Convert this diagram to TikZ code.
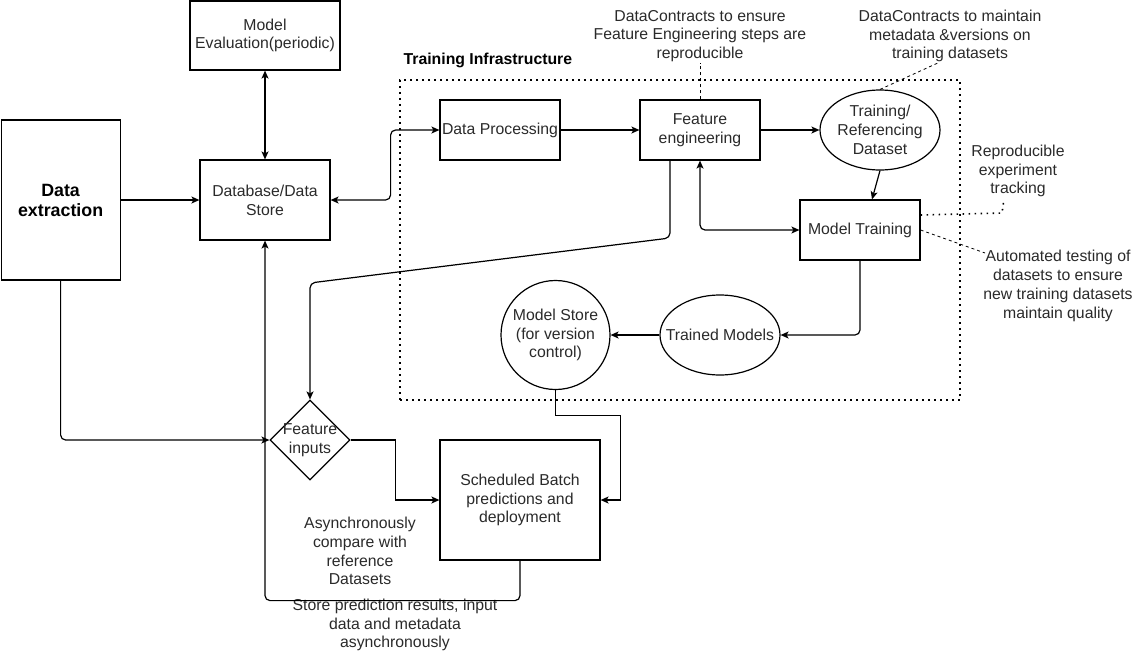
\documentclass[tikz,border=0pt]{standalone}
\usepackage{fontspec}
\setmainfont{Liberation Sans}
\usetikzlibrary{arrows.meta,shapes.geometric}
\definecolor{txt}{HTML}{2A2A2A}
\begin{document}
\begin{tikzpicture}[x=1pt,y=-1pt,
  font=\fontsize{15.8}{18.8}\selectfont,
  line width=1.2pt,
  box/.style={draw, rectangle, align=center, inner sep=0pt, text=txt},
  oval/.style={draw, ellipse, inner sep=0pt},
  note/.style={align=center, inner sep=0pt, text=txt},
  arr/.style={-{Stealth[length=8pt,width=7pt,inset=2pt]}},
  arrtwo/.style={{Stealth[length=8pt,width=7pt,inset=2pt]}-{Stealth[length=8pt,width=7pt,inset=2pt]}},
  rnd/.style={rounded corners=5pt},
  dotline/.style={line width=1.6pt, dash pattern=on 1.6pt off 4.4pt},
  dashline/.style={line width=0.8pt, dash pattern=on 3pt off 3pt}
]
\useasboundingbox (0,0) rectangle (1141,662);

% main nodes
\node[box, minimum width=119, minimum height=160, text=black,
  font=\fontsize{17.8}{20}\selectfont\bfseries] (ext) at (60.6,200) {Data\\extraction};
\node[box, minimum width=150, minimum height=69] (eval) at (265,35.5) {Model\\Evaluation(periodic)};
\node[box, minimum width=130, minimum height=80] (db) at (265,200) {Database/Data\\Store};

% training infrastructure frame
\node[draw, dotline, minimum width=560, minimum height=320, inner sep=0pt] (infra) at (680,240) {};
\node[anchor=west, inner sep=0pt, text=black, font=\fontsize{15.8}{19}\selectfont\bfseries]
  (infralbl) at (403,60) {Training Infrastructure};

\node[box, minimum width=120, minimum height=60] (dp) at (500,130) {Data Processing};
\node[box, minimum width=120, minimum height=60] (fe) at (700,130) {Feature\\engineering};
\node[oval, minimum width=120, minimum height=80] (trd) at (880,130) {};
\node[note] (trdlbl) at (trd) {Training/\\Referencing\\Dataset};
\node[box, minimum width=120, minimum height=60] (mt) at (860,230) {Model Training};
\node[oval, minimum width=120, minimum height=80] (tm) at (720,335) {};
\node[note] (tmlbl) at (tm) {Trained Models};
\node[draw, circle, minimum size=109, align=center, inner sep=0pt, text=txt] (ms) at (555.5,335)
  {Model Store\\(for version\\control)};

% prediction side
\node[draw, diamond, minimum width=80, minimum height=80, inner sep=0pt] (fi) at (310,440) {};
\node[note] (filbl) at (fi) {Feature\\inputs};
\node[box, minimum width=160, minimum height=120] (bat) at (520,500)
  {Scheduled Batch\\predictions and\\deployment};

% notes
\node[note] (ann1) at (700,36) {DataContracts to ensure\\Feature Engineering steps are\\reproducible};
\node[note] (ann2) at (950,36) {DataContracts to maintain\\metadata \&versions on\\training datasets};
\node[note] (ann3) at (1018,171) {Reproducible\\experiment\\tracking};
\node[note] (ann4) at (1058,286) {Automated testing of\\datasets to ensure\\new training datasets\\maintain quality};
\node[note] (ann5) at (360,551) {Asynchronously\\compare with\\reference\\Datasets};
\node[note] (ann6) at (395,625) {Store prediction results, input\\data and metadata\\asynchronously};

% connectors
\draw[arr] (ext) -- (db);
\draw[arrtwo] (eval) -- (db);
\draw[arrtwo, rnd] (db.east) -- ++(60,0) |- (dp.west);
\draw[arr] (dp) -- (fe);
\draw[arr] (fe) -- (trd);
\draw[arr] (trd.south) -- ([xshift=12pt]mt.north);
\draw[arrtwo, rnd] (fe.south) |- (mt.west);
\draw[arr, rnd] ([xshift=-30pt]fe.south) -- (670,238) -- (310,283) -- (fi.north);
\draw[arr, rnd] (ext.south) |- (fi.west);
\draw[arr] (fi.east) -- ++(45,0) |- (bat.west);
\draw[arr, rnd] (bat.south) -- ++(0,40) -| (db.south);
\draw[arr, rnd] (mt.south) |- (tm.east);
\draw[arr] (tm) -- (ms);
\draw[arr] (ms.south) -- ++(0,25) -| ([xshift=20pt]bat.east) -- (bat.east);

% note leaders
\coordinate (c2) at (940,62);
\coordinate (c3a) at (1002,213);
\coordinate (c3b) at (1004,199);
\coordinate (c4) at (985,253);
\draw[dashline] (fe.north) -- (fe.north |- ann1.south);
\draw[dashline] (trd.north) -- (c2);
\draw[dotline] ([yshift=15pt]mt.east) -- (c3a) -- (c3b);
\draw[dashline] (mt.east) -- (c4);
\end{tikzpicture}
\end{document}
